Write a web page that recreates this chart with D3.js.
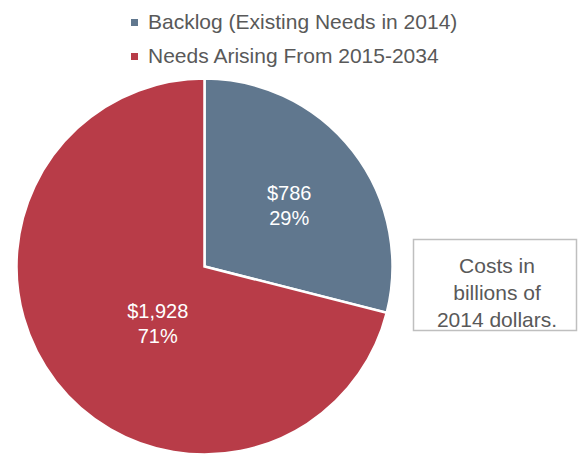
<!DOCTYPE html>
<html>
<head>
<meta charset="utf-8">
<script src="https://cdn.jsdelivr.net/npm/d3@7"></script>
<style>
  html, body { margin: 0; padding: 0; background: #fff; }
  svg { display: block; font-family: "Liberation Sans", Arial, sans-serif; }
</style>
</head>
<body>
<svg id="chart" width="578" height="455"></svg>
<script>
// ---- data ----
const categories = ["Backlog (Existing Needs in 2014)", "Needs Arising From 2015-2034"];
const values = [786, 1928];
const valueLabels = ["$786", "$1,928"];
const percentLabels = ["29%", "71%"];
const colors = ["#60778e", "#b83c48"];
const noteLines = ["Costs in", "billions of", "2014 dollars."];

// ---- layout ----
const W = 578, H = 455;
const cx = 204.5, cy = 266.5, R = 188;
const labelRadiusFrac = [0.556, 0.39];
const labelAngleShiftDeg = [2, -12.5];

const svg = d3.select("#chart");

const pie = d3.pie().value(d => d).sort(null);
const arcs = pie(values);
const arc = d3.arc().innerRadius(0).outerRadius(R);

const g = svg.append("g").attr("transform", `translate(${cx},${cy})`);
g.selectAll("path.slice")
  .data(arcs)
  .enter().append("path")
  .attr("class", "slice")
  .attr("d", arc)
  .attr("fill", (d, i) => colors[i])
  .attr("stroke", "#fff")
  .attr("stroke-width", 2.5)
  .attr("stroke-linejoin", "miter");

// slice labels
arcs.forEach((d, i) => {
  const mid = (d.startAngle + d.endAngle) / 2 + labelAngleShiftDeg[i] * Math.PI / 180;
  const r = R * labelRadiusFrac[i];
  const x = Math.sin(mid) * r, y = -Math.cos(mid) * r;
  const t = g.append("text")
    .attr("text-anchor", "middle")
    .attr("fill", "#fff")
    .attr("font-size", 20);
  t.append("tspan").attr("x", x).attr("y", y - 5).text(valueLabels[i]);
  t.append("tspan").attr("x", x).attr("y", y + 20).text(percentLabels[i]);
});

// legend
const legend = svg.append("g");
categories.forEach((c, i) => {
  const by = 28.5 + i * 34;
  legend.append("rect")
    .attr("x", 131).attr("y", by - 9.5)
    .attr("width", 7).attr("height", 7)
    .attr("fill", colors[i]);
  legend.append("text")
    .attr("x", 148).attr("y", by)
    .attr("font-size", 21)
    .attr("fill", "#595959")
    .text(c);
});

// note box
svg.append("rect")
  .attr("x", 413.5).attr("y", 239.5)
  .attr("width", 163).attr("height", 91)
  .attr("fill", "#fff")
  .attr("stroke", "#bfbfbf")
  .attr("stroke-width", 1.5);
const note = svg.append("text")
  .attr("text-anchor", "middle")
  .attr("font-size", 21)
  .attr("fill", "#595959");
noteLines.forEach((l, i) => {
  note.append("tspan").attr("x", 497).attr("y", 272.5 + i * 27).text(l);
});
</script>
</body>
</html>
